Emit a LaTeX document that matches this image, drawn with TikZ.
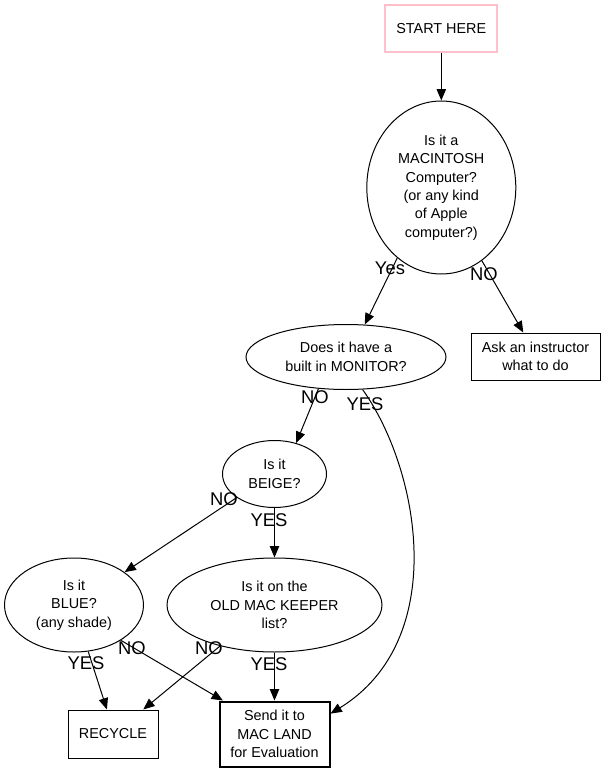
\documentclass[tikz,border=0pt]{standalone}
\usepackage{fontspec}
\setmainfont{Liberation Sans}
\usetikzlibrary{arrows.meta,shapes.geometric}
\definecolor{startpink}{HTML}{FFC0CB}
\begin{document}
\begin{tikzpicture}[x=.75pt,y=-.75pt,line width=.75pt,
  q/.style={ellipse,draw,inner sep=0pt,align=center,font=\fontsize{10.8}{13.8}\selectfont},
  box/.style={rectangle,draw,inner sep=0pt,align=center,font=\fontsize{10.8}{13.8}\selectfont},
  lab/.style={inner sep=0pt,font=\fontsize{13.8}{16}\selectfont},
  go/.style={-{Triangle[length=8.5pt,width=7pt]}}]
\useasboundingbox (0,0) rectangle (607,773);
\node[box,draw=startpink,line width=1.5pt,minimum width=84pt,minimum height=35.25pt] (start) at (441.3,29) {START HERE};
\node[q,minimum width=111.75pt,minimum height=129.75pt] (mac) at (441.3,187.5) {Is it a\\MACINTOSH\\Computer?\\(or any kind\\of Apple\\computer?)};
\node[q,minimum width=150pt,minimum height=48.75pt] (monitor) at (346,357) {Does it have a\\built in MONITOR?};
\node[box,minimum width=96.75pt,minimum height=35.25pt] (ask) at (535.5,356.5) {Ask an instructor\\what to do};
\node[q,minimum width=78pt,minimum height=50.25pt] (beige) at (274.5,474) {Is it\\BEIGE?};
\node[q,minimum width=104.25pt,minimum height=70.5pt] (blue) at (74,605) {Is it\\BLUE?\\(any shade)};
\node[q,minimum width=161.25pt,minimum height=70.5pt] (oldmac) at (274.5,605) {Is it on the\\OLD MAC KEEPER\\list?};
\node[box,minimum width=67.5pt,minimum height=36pt] (recycle) at (113,734) {RECYCLE};
\node[box,line width=1.5pt,minimum width=82.5pt,minimum height=48.75pt] (send) at (274.5,734) {Send it to\\MAC LAND\\for Evaluation};
\draw[go] (start) -- (mac);
\draw[go] (mac.238) -- (monitor.60);
\draw[go] (mac.299) -- (ask.117);
\draw[go] (monitor.229) -- (beige.55);
\draw[go] (monitor.297) .. controls (420,470) and (450,640) .. (send.20);
\draw[go] (beige.212) -- (blue.33);
\draw[go] (beige) -- (oldmac);
\draw[go] (blue.287) -- (recycle.104);
\draw[go] (blue.323) -- (send.147);
\draw[go] (oldmac.217) -- (recycle.39);
\draw[go] (oldmac) -- (send);
\node[lab] (yesmac) at (390,268) {Yes};
\node[lab] (nomac) at (484,274) {NO};
\node[lab] (nomon) at (315,397) {NO};
\node[lab] (yesmon) at (365,404) {YES};
\node[lab] (nobeige) at (224,499) {NO};
\node[lab] (yesbeige) at (269,520) {YES};
\node[lab] (yesblue) at (86,663) {YES};
\node[lab] (noblue) at (132,648) {NO};
\node[lab] (noold) at (209,648) {NO};
\node[lab] (yesold) at (269,664) {YES};
\end{tikzpicture}
\end{document}
